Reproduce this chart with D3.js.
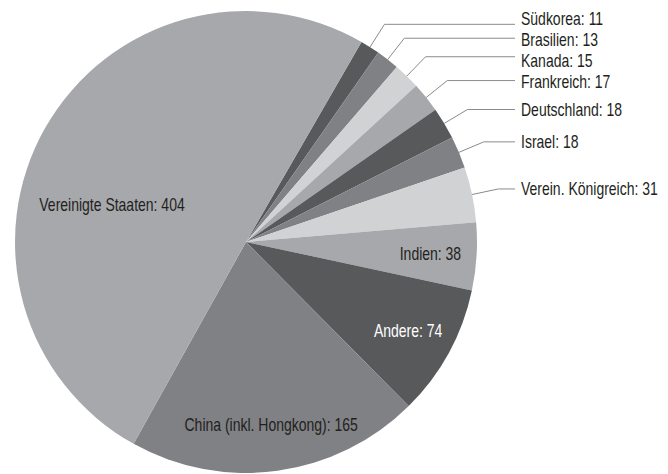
<!DOCTYPE html>
<html>
<head>
<meta charset="utf-8">
<script src="https://cdn.jsdelivr.net/npm/d3@7"></script>
<style>
  body { margin: 0; background: #fff; }
  text { font-family: "Liberation Sans", Arial, sans-serif; font-size: 17.5px; fill: #231f20; }
</style>
</head>
<body>
<svg class="Pie"></svg>
<script>
// slices in drawing order, clockwise from ~30 degrees
let names = ["Südkorea", "Brasilien", "Kanada", "Frankreich", "Deutschland", "Israel",
             "Verein. Königreich", "Indien", "Andere", "China (inkl. Hongkong)", "Vereinigte Staaten"];
let values = [11, 13, 15, 17, 18, 18, 31, 38, 74, 165, 404];
let fills = ["#58595b", "#808184", "#d1d2d4", "#a7a8ab", "#58595b", "#808184",
             "#d1d2d4", "#a7a8ab", "#58595b", "#808184", "#a7a8ab"];
let outside = [true, true, true, true, true, true, true, false, false, false, false];

function drawPie(){
    let width = 668, height = 474,
        cx = 246, cy = 242, r = 231,
        squeeze = 0.8; // no narrow font installed, so squeeze the normal one
    let svg = d3.select(".Pie")
        .attr("width", width)
        .attr("height", height);
    let g = svg.append("g")
        .attr("transform", "translate(" + cx + "," + cy + ")");

    let start = 30 * Math.PI / 180;
    let pie = d3.pie().sort(null).value(d => d)
        .startAngle(start).endAngle(start + 2 * Math.PI);
    let arcs = pie(values);
    let arc = d3.arc().innerRadius(0).outerRadius(r);

    g.selectAll(".slice")
        .data(arcs)
        .join("path")
        .attr("class", "slice")
        .attr("d", arc)
        .attr("fill", (d, i) => fills[i]);

    let mid = d => (d.startAngle + d.endAngle) / 2;
    let polar = (a, rr) => [Math.sin(a) * rr, -Math.cos(a) * rr];

    function label(x, y, txt, anchor, color){
        g.append("text")
            .attr("transform", "translate(" + x + "," + y + ")scale(" + squeeze + ",1)")
            .attr("dy", "0.35em")
            .attr("text-anchor", anchor)
            .style("fill", color)
            .text(txt);
    }

    // outside labels: leader lines first, then spread the texts apart
    let lineEnd = 269, gap = 21;
    let outs = [];
    arcs.forEach(function(d, i){
        if(!outside[i]) return;
        let a = mid(d);
        let p0 = polar(a, r), p1 = polar(a, r + 27);
        g.append("polyline")
            .attr("points", [p0, p1, [lineEnd, p1[1]]].map(p => p.join(",")).join(" "))
            .attr("fill", "none")
            .attr("stroke", "#8a8b8d")
            .attr("stroke-width", 1);
        outs.push({i: i, y: p1[1]});
    });
    for(let k = 0; k < 50; k++){
        for(let j = 1; j < outs.length; j++){
            let over = gap - (outs[j].y - outs[j-1].y);
            if(over > 0){
                outs[j-1].y -= over / 2;
                outs[j].y += over / 2;
            }
        }
    }
    outs.forEach(o => label(lineEnd + 6, o.y, names[o.i] + ": " + values[o.i], "start", "#231f20"));

    // inside labels
    arcs.forEach(function(d, i){
        if(outside[i]) return;
        let a = mid(d), rr = r * 0.8;
        // the big slice label sits further in
        if(i == names.length - 1){ a = 285.4 * Math.PI / 180; rr = 139; }
        let p = polar(a, rr);
        label(p[0], p[1], names[i] + ": " + values[i], "middle",
              fills[i] == "#58595b" ? "#fff" : "#231f20");
    });
}
drawPie();
</script>
</body>
</html>
